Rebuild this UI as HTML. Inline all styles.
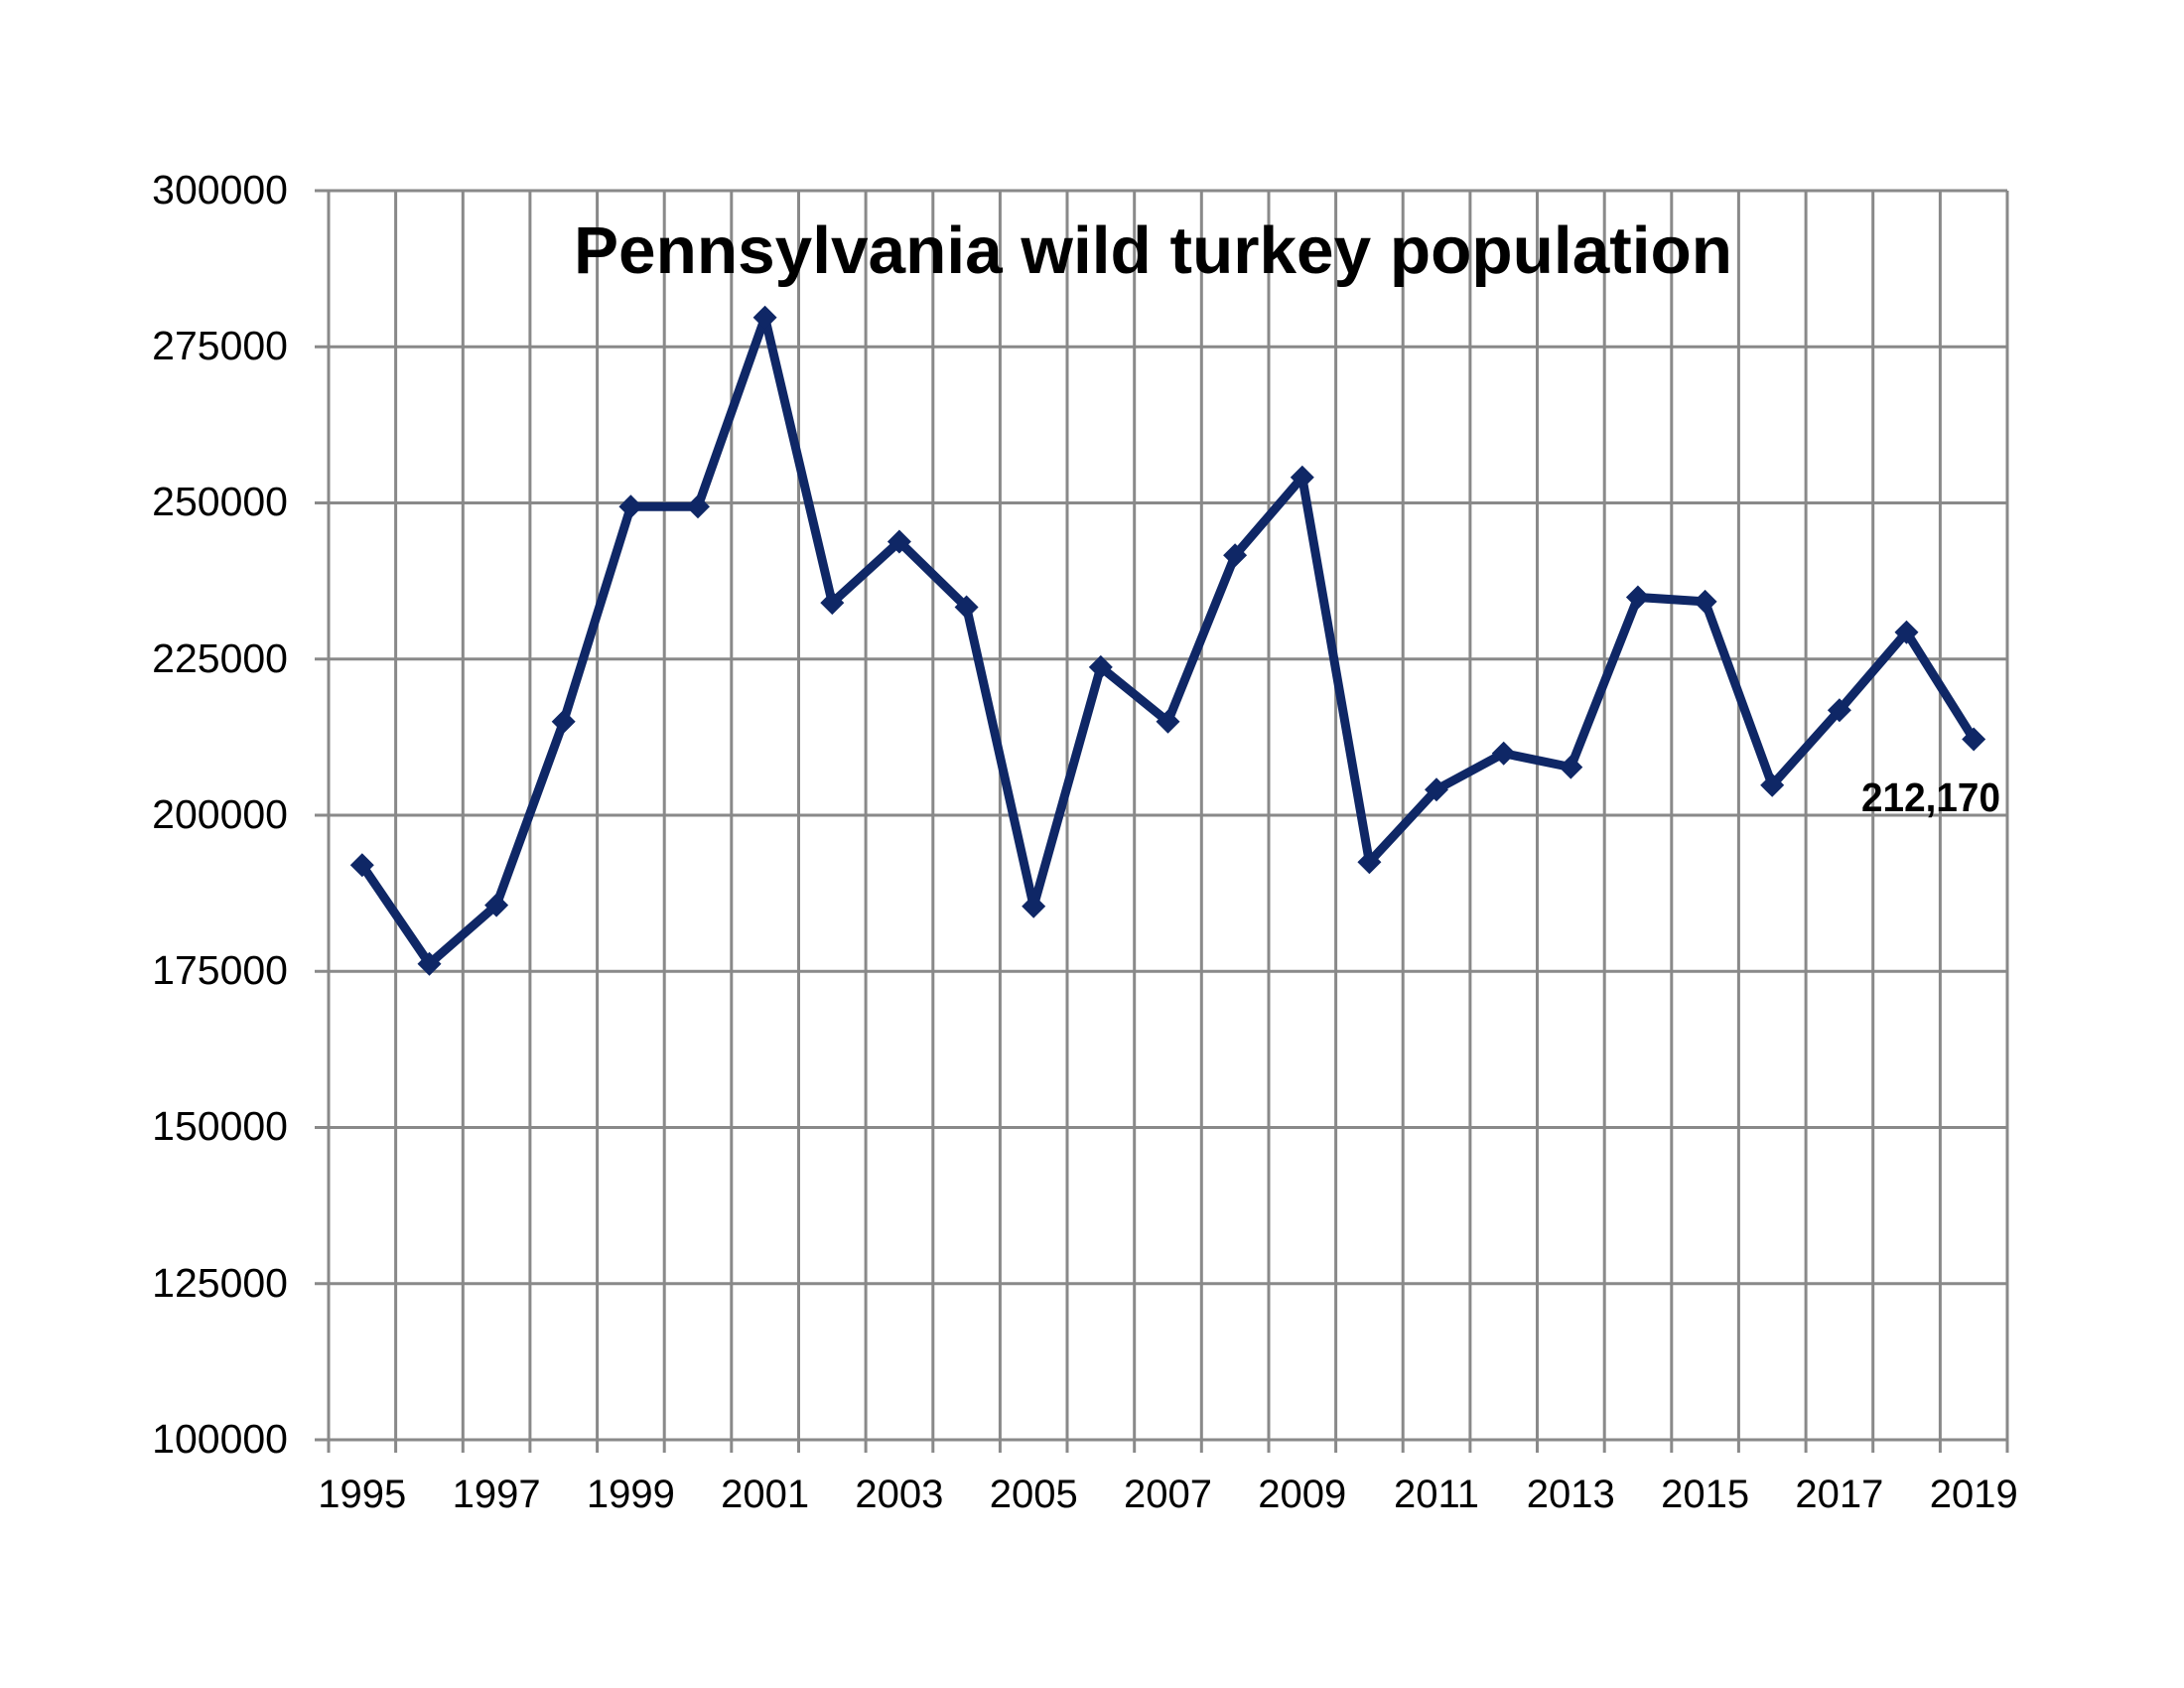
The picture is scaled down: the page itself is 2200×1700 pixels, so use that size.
<!DOCTYPE html>
<html><head><meta charset="utf-8"><style>html,body{margin:0;padding:0;background:#fff}svg{display:block}</style></head>
<body>
<svg width="2200" height="1700" viewBox="0 0 2200 1700" xmlns="http://www.w3.org/2000/svg" font-family="Liberation Sans, sans-serif">
<rect width="2200" height="1700" fill="#fff"/>
<g stroke="#898989" stroke-width="3">
<line x1="317" y1="192" x2="2022" y2="192"/>
<line x1="317" y1="349.25" x2="2022" y2="349.25"/>
<line x1="317" y1="506.5" x2="2022" y2="506.5"/>
<line x1="317" y1="663.75" x2="2022" y2="663.75"/>
<line x1="317" y1="821" x2="2022" y2="821"/>
<line x1="317" y1="978.25" x2="2022" y2="978.25"/>
<line x1="317" y1="1135.5" x2="2022" y2="1135.5"/>
<line x1="317" y1="1292.75" x2="2022" y2="1292.75"/>
<line x1="317" y1="1450" x2="2022" y2="1450"/>
</g>
<g stroke="#898989" stroke-width="3">
<line x1="331.0" y1="192" x2="331.0" y2="1463"/><line x1="398.6" y1="192" x2="398.6" y2="1463"/><line x1="466.3" y1="192" x2="466.3" y2="1463"/><line x1="533.9" y1="192" x2="533.9" y2="1463"/><line x1="601.6" y1="192" x2="601.6" y2="1463"/><line x1="669.2" y1="192" x2="669.2" y2="1463"/><line x1="736.8" y1="192" x2="736.8" y2="1463"/><line x1="804.5" y1="192" x2="804.5" y2="1463"/><line x1="872.1" y1="192" x2="872.1" y2="1463"/><line x1="939.8" y1="192" x2="939.8" y2="1463"/><line x1="1007.4" y1="192" x2="1007.4" y2="1463"/><line x1="1075.0" y1="192" x2="1075.0" y2="1463"/><line x1="1142.7" y1="192" x2="1142.7" y2="1463"/><line x1="1210.3" y1="192" x2="1210.3" y2="1463"/><line x1="1278.0" y1="192" x2="1278.0" y2="1463"/><line x1="1345.6" y1="192" x2="1345.6" y2="1463"/><line x1="1413.2" y1="192" x2="1413.2" y2="1463"/><line x1="1480.9" y1="192" x2="1480.9" y2="1463"/><line x1="1548.5" y1="192" x2="1548.5" y2="1463"/><line x1="1616.2" y1="192" x2="1616.2" y2="1463"/><line x1="1683.8" y1="192" x2="1683.8" y2="1463"/><line x1="1751.4" y1="192" x2="1751.4" y2="1463"/><line x1="1819.1" y1="192" x2="1819.1" y2="1463"/><line x1="1886.7" y1="192" x2="1886.7" y2="1463"/><line x1="1954.4" y1="192" x2="1954.4" y2="1463"/><line x1="2022.0" y1="192" x2="2022.0" y2="1463"/>
</g>
<g font-size="41" fill="#000" text-anchor="end">
<text x="290" y="205">300000</text><text x="290" y="362">275000</text><text x="290" y="519">250000</text><text x="290" y="677">225000</text><text x="290" y="834">200000</text><text x="290" y="991">175000</text><text x="290" y="1148">150000</text><text x="290" y="1306">125000</text><text x="290" y="1463">100000</text>
</g>
<g font-size="40" fill="#000" text-anchor="middle">
<text x="364.8" y="1518">1995</text><text x="500.1" y="1518">1997</text><text x="635.4" y="1518">1999</text><text x="770.6" y="1518">2001</text><text x="905.9" y="1518">2003</text><text x="1041.2" y="1518">2005</text><text x="1176.5" y="1518">2007</text><text x="1311.8" y="1518">2009</text><text x="1447.0" y="1518">2011</text><text x="1582.3" y="1518">2013</text><text x="1717.6" y="1518">2015</text><text x="1852.9" y="1518">2017</text><text x="1988.2" y="1518">2019</text>
</g>
<text x="578" y="275" font-size="67" font-weight="bold" textLength="1167" lengthAdjust="spacingAndGlyphs" fill="#000">Pennsylvania wild turkey population</text>
<polyline fill="none" stroke="#0f2766" stroke-width="9" stroke-linejoin="round" points="364.8,871.3 432.5,970.7 500.1,911.6 567.7,726.7 635.4,510.3 703.0,510.3 770.6,319.7 838.3,607.1 905.9,545.5 973.6,611.5 1041.2,912.8 1108.8,671.9 1176.5,726.7 1244.1,559.3 1311.8,480.7 1379.4,868.2 1447.0,795.2 1514.7,758.7 1582.3,772.6 1649.9,601.5 1717.6,605.9 1785.2,790.8 1852.9,715.3 1920.5,636.7 1988.2,744.5"/>
<g fill="#0f2766">
<path d="M364.8,859.3l12,12l-12,12l-12,-12z"/><path d="M432.5,958.7l12,12l-12,12l-12,-12z"/><path d="M500.1,899.6l12,12l-12,12l-12,-12z"/><path d="M567.7,714.7l12,12l-12,12l-12,-12z"/><path d="M635.4,498.3l12,12l-12,12l-12,-12z"/><path d="M703.0,498.3l12,12l-12,12l-12,-12z"/><path d="M770.6,307.7l12,12l-12,12l-12,-12z"/><path d="M838.3,595.1l12,12l-12,12l-12,-12z"/><path d="M905.9,533.5l12,12l-12,12l-12,-12z"/><path d="M973.6,599.5l12,12l-12,12l-12,-12z"/><path d="M1041.2,900.8l12,12l-12,12l-12,-12z"/><path d="M1108.8,659.9l12,12l-12,12l-12,-12z"/><path d="M1176.5,714.7l12,12l-12,12l-12,-12z"/><path d="M1244.1,547.3l12,12l-12,12l-12,-12z"/><path d="M1311.8,468.7l12,12l-12,12l-12,-12z"/><path d="M1379.4,856.2l12,12l-12,12l-12,-12z"/><path d="M1447.0,783.2l12,12l-12,12l-12,-12z"/><path d="M1514.7,746.7l12,12l-12,12l-12,-12z"/><path d="M1582.3,760.6l12,12l-12,12l-12,-12z"/><path d="M1649.9,589.5l12,12l-12,12l-12,-12z"/><path d="M1717.6,593.9l12,12l-12,12l-12,-12z"/><path d="M1785.2,778.8l12,12l-12,12l-12,-12z"/><path d="M1852.9,703.3l12,12l-12,12l-12,-12z"/><path d="M1920.5,624.7l12,12l-12,12l-12,-12z"/><path d="M1988.2,732.5l12,12l-12,12l-12,-12z"/>
</g>
<text x="1875" y="817" font-size="41" font-weight="bold" textLength="140" lengthAdjust="spacingAndGlyphs" fill="#000">212,170</text>
</svg>
</body></html>
